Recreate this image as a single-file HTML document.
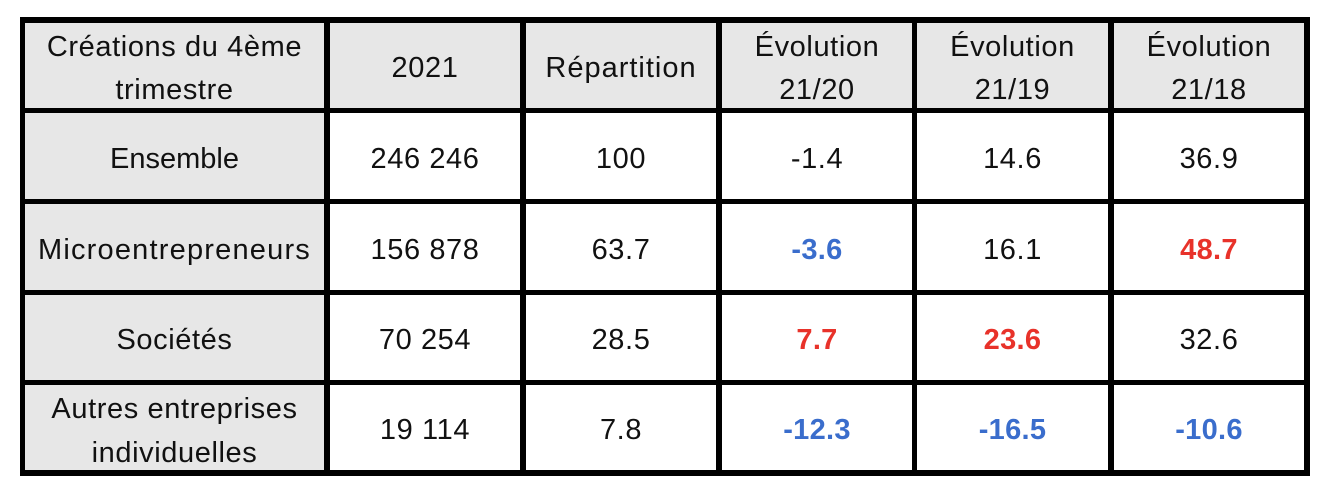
<!DOCTYPE html>
<html>
<head>
<meta charset="utf-8">
<style>
  html, body { margin:0; padding:0; background:#fff; }
  body { width:1328px; height:498px; position:relative; overflow:hidden;
         font-family:"Liberation Sans", Arial, sans-serif; }
  .bg { position:absolute; background:#e7e7e7; }
  .ln { position:absolute; background:#000; }
  .c { position:absolute; display:flex; align-items:center; justify-content:center;
       text-align:center; font-size:29px; line-height:43px; letter-spacing:0.6px; color:#111;
       box-sizing:border-box; padding-top:6px; }
  .b { font-weight:bold; letter-spacing:0.3px; }
  .blue { color:#3a6dcc; }
  .red { color:#e8322a; }
</style>
</head>
<body>
  <!-- grey backgrounds -->
  <div class="bg" style="left:25px;top:23px;width:1279px;height:85px;"></div>
  <div class="bg" style="left:25px;top:113px;width:299px;height:357px;"></div>

  <!-- horizontal lines -->
  <div class="ln" style="left:20px;top:17px;width:1290px;height:6px;"></div>
  <div class="ln" style="left:20px;top:108px;width:1290px;height:5px;"></div>
  <div class="ln" style="left:20px;top:199px;width:1290px;height:5px;"></div>
  <div class="ln" style="left:20px;top:290px;width:1290px;height:5px;"></div>
  <div class="ln" style="left:20px;top:380px;width:1290px;height:5px;"></div>
  <div class="ln" style="left:20px;top:470px;width:1290px;height:6px;"></div>

  <!-- vertical lines -->
  <div class="ln" style="left:20px;top:17px;width:5px;height:459px;"></div>
  <div class="ln" style="left:324px;top:17px;width:6px;height:459px;"></div>
  <div class="ln" style="left:520px;top:17px;width:6px;height:459px;"></div>
  <div class="ln" style="left:716px;top:17px;width:6px;height:459px;"></div>
  <div class="ln" style="left:912px;top:17px;width:5px;height:459px;"></div>
  <div class="ln" style="left:1108px;top:17px;width:6px;height:459px;"></div>
  <div class="ln" style="left:1304px;top:17px;width:6px;height:459px;"></div>

  <!-- header row -->
  <div class="c" style="left:25px;top:23px;width:299px;height:85px;">Créations du 4ème<br>trimestre</div>
  <div class="c" style="left:330px;top:23px;width:190px;height:85px;">2021</div>
  <div class="c" style="left:526px;top:23px;width:190px;height:85px;letter-spacing:1px;">Répartition</div>
  <div class="c" style="left:722px;top:23px;width:190px;height:85px;">Évolution<br>21/20</div>
  <div class="c" style="left:917px;top:23px;width:191px;height:85px;">Évolution<br>21/19</div>
  <div class="c" style="left:1114px;top:23px;width:190px;height:85px;">Évolution<br>21/18</div>

  <!-- row 1 -->
  <div class="c" style="left:25px;top:113px;width:299px;height:86px;letter-spacing:0px;">Ensemble</div>
  <div class="c" style="left:330px;top:113px;width:190px;height:86px;">246 246</div>
  <div class="c" style="left:526px;top:113px;width:190px;height:86px;">100</div>
  <div class="c" style="left:722px;top:113px;width:190px;height:86px;">-1.4</div>
  <div class="c" style="left:917px;top:113px;width:191px;height:86px;">14.6</div>
  <div class="c" style="left:1114px;top:113px;width:190px;height:86px;">36.9</div>

  <!-- row 2 -->
  <div class="c" style="left:25px;top:204px;width:299px;height:86px;letter-spacing:1.2px;">Microentrepreneurs</div>
  <div class="c" style="left:330px;top:204px;width:190px;height:86px;">156 878</div>
  <div class="c" style="left:526px;top:204px;width:190px;height:86px;">63.7</div>
  <div class="c b blue" style="left:722px;top:204px;width:190px;height:86px;">-3.6</div>
  <div class="c" style="left:917px;top:204px;width:191px;height:86px;">16.1</div>
  <div class="c b red" style="left:1114px;top:204px;width:190px;height:86px;">48.7</div>

  <!-- row 3 -->
  <div class="c" style="left:25px;top:295px;width:299px;height:85px;">Sociétés</div>
  <div class="c" style="left:330px;top:295px;width:190px;height:85px;">70 254</div>
  <div class="c" style="left:526px;top:295px;width:190px;height:85px;">28.5</div>
  <div class="c b red" style="left:722px;top:295px;width:190px;height:85px;">7.7</div>
  <div class="c b red" style="left:917px;top:295px;width:191px;height:85px;">23.6</div>
  <div class="c" style="left:1114px;top:295px;width:190px;height:85px;">32.6</div>

  <!-- row 4 -->
  <div class="c" style="left:25px;top:385px;width:299px;height:85px;line-height:44px;">Autres entreprises<br>individuelles</div>
  <div class="c" style="left:330px;top:385px;width:190px;height:85px;">19 114</div>
  <div class="c" style="left:526px;top:385px;width:190px;height:85px;">7.8</div>
  <div class="c b blue" style="left:722px;top:385px;width:190px;height:85px;">-12.3</div>
  <div class="c b blue" style="left:917px;top:385px;width:191px;height:85px;">-16.5</div>
  <div class="c b blue" style="left:1114px;top:385px;width:190px;height:85px;">-10.6</div>
</body>
</html>
